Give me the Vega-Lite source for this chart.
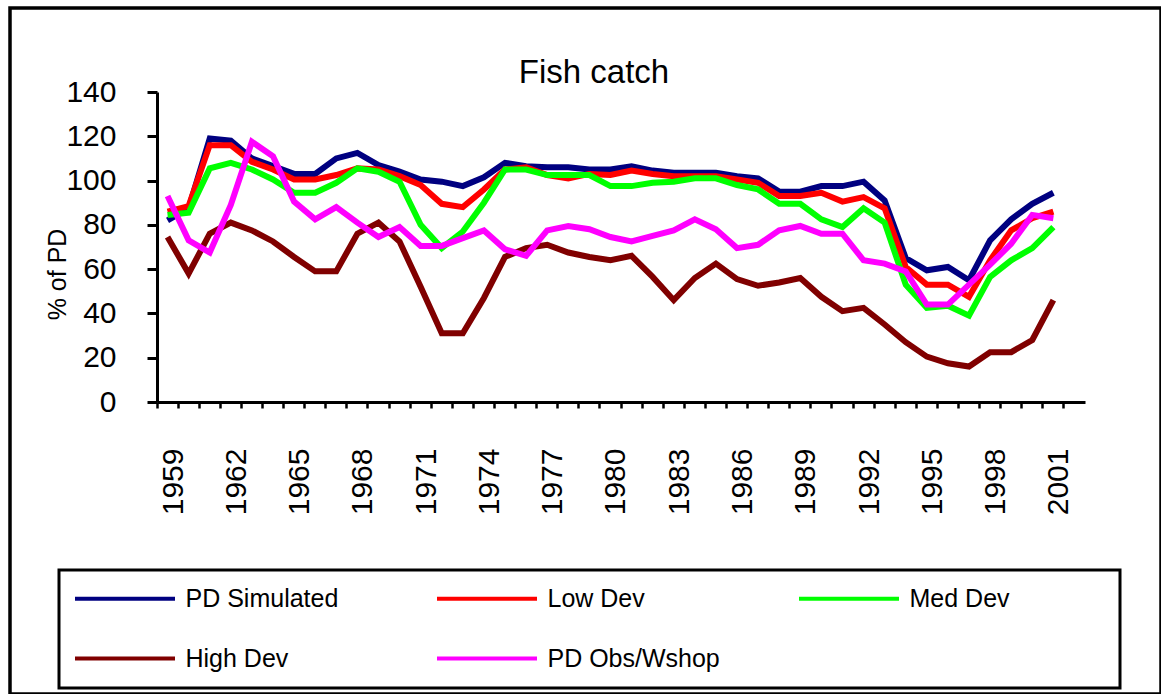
{
"$schema": "https://vega.github.io/schema/vega-lite/v6.json",
"autosize": {"type": "none"},
"padding": {"left": 10, "top": 8, "right": 0, "bottom": 0},
"width": 1151,
"height": 686,
"background": "white",
"config": {"font": "Liberation Sans", "view": {"stroke": "black", "strokeWidth": 3.5}},
"title": {"text": "Fish catch", "fontSize": 33, "font": "Liberation Sans", "fontWeight": "normal", "color": "black", "anchor": "middle", "frame": "group", "baseline": "alphabetic", "offset": -108, "dx": 8.5},
"data": {"values": [
{"year":1959,"series":"PD Simulated","pct":82},{"year":1960,"series":"PD Simulated","pct":87.5},{"year":1961,"series":"PD Simulated","pct":119},{"year":1962,"series":"PD Simulated","pct":118},{"year":1963,"series":"PD Simulated","pct":110},{"year":1964,"series":"PD Simulated","pct":106.5},{"year":1965,"series":"PD Simulated","pct":103},{"year":1966,"series":"PD Simulated","pct":103},{"year":1967,"series":"PD Simulated","pct":110},{"year":1968,"series":"PD Simulated","pct":112.5},{"year":1969,"series":"PD Simulated","pct":107},{"year":1970,"series":"PD Simulated","pct":104},{"year":1971,"series":"PD Simulated","pct":100.5},{"year":1972,"series":"PD Simulated","pct":99.5},{"year":1973,"series":"PD Simulated","pct":97.5},{"year":1974,"series":"PD Simulated","pct":101.5},{"year":1975,"series":"PD Simulated","pct":108},{"year":1976,"series":"PD Simulated","pct":106.5},{"year":1977,"series":"PD Simulated","pct":106},{"year":1978,"series":"PD Simulated","pct":106},{"year":1979,"series":"PD Simulated","pct":105},{"year":1980,"series":"PD Simulated","pct":105},{"year":1981,"series":"PD Simulated","pct":106.5},{"year":1982,"series":"PD Simulated","pct":104.5},{"year":1983,"series":"PD Simulated","pct":103.5},{"year":1984,"series":"PD Simulated","pct":103.5},{"year":1985,"series":"PD Simulated","pct":103.5},{"year":1986,"series":"PD Simulated","pct":102},{"year":1987,"series":"PD Simulated","pct":101},{"year":1988,"series":"PD Simulated","pct":95},{"year":1989,"series":"PD Simulated","pct":95},{"year":1990,"series":"PD Simulated","pct":97.5},{"year":1991,"series":"PD Simulated","pct":97.5},{"year":1992,"series":"PD Simulated","pct":99.5},{"year":1993,"series":"PD Simulated","pct":91},{"year":1994,"series":"PD Simulated","pct":65},{"year":1995,"series":"PD Simulated","pct":59.5},{"year":1996,"series":"PD Simulated","pct":61},{"year":1997,"series":"PD Simulated","pct":55},{"year":1998,"series":"PD Simulated","pct":73},{"year":1999,"series":"PD Simulated","pct":82.5},{"year":2000,"series":"PD Simulated","pct":89.5},{"year":2001,"series":"PD Simulated","pct":94.5},
{"year":1959,"series":"Low Dev","pct":86},{"year":1960,"series":"Low Dev","pct":88.5},{"year":1961,"series":"Low Dev","pct":116},{"year":1962,"series":"Low Dev","pct":116},{"year":1963,"series":"Low Dev","pct":108.5},{"year":1964,"series":"Low Dev","pct":105},{"year":1965,"series":"Low Dev","pct":100.5},{"year":1966,"series":"Low Dev","pct":100.5},{"year":1967,"series":"Low Dev","pct":102.5},{"year":1968,"series":"Low Dev","pct":105.5},{"year":1969,"series":"Low Dev","pct":105},{"year":1970,"series":"Low Dev","pct":102},{"year":1971,"series":"Low Dev","pct":98},{"year":1972,"series":"Low Dev","pct":89.5},{"year":1973,"series":"Low Dev","pct":88},{"year":1974,"series":"Low Dev","pct":96},{"year":1975,"series":"Low Dev","pct":105},{"year":1976,"series":"Low Dev","pct":106},{"year":1977,"series":"Low Dev","pct":102.5},{"year":1978,"series":"Low Dev","pct":101},{"year":1979,"series":"Low Dev","pct":103},{"year":1980,"series":"Low Dev","pct":102.5},{"year":1981,"series":"Low Dev","pct":104.5},{"year":1982,"series":"Low Dev","pct":103},{"year":1983,"series":"Low Dev","pct":102},{"year":1984,"series":"Low Dev","pct":102},{"year":1985,"series":"Low Dev","pct":102},{"year":1986,"series":"Low Dev","pct":100.5},{"year":1987,"series":"Low Dev","pct":99},{"year":1988,"series":"Low Dev","pct":93},{"year":1989,"series":"Low Dev","pct":93},{"year":1990,"series":"Low Dev","pct":94.5},{"year":1991,"series":"Low Dev","pct":90.5},{"year":1992,"series":"Low Dev","pct":92.5},{"year":1993,"series":"Low Dev","pct":87.5},{"year":1994,"series":"Low Dev","pct":61},{"year":1995,"series":"Low Dev","pct":53},{"year":1996,"series":"Low Dev","pct":53},{"year":1997,"series":"Low Dev","pct":47.5},{"year":1998,"series":"Low Dev","pct":64},{"year":1999,"series":"Low Dev","pct":77.5},{"year":2000,"series":"Low Dev","pct":83},{"year":2001,"series":"Low Dev","pct":86},
{"year":1959,"series":"Med Dev","pct":84.5},{"year":1960,"series":"Med Dev","pct":85.5},{"year":1961,"series":"Med Dev","pct":105.5},{"year":1962,"series":"Med Dev","pct":108},{"year":1963,"series":"Med Dev","pct":105},{"year":1964,"series":"Med Dev","pct":100.5},{"year":1965,"series":"Med Dev","pct":94.5},{"year":1966,"series":"Med Dev","pct":94.5},{"year":1967,"series":"Med Dev","pct":99},{"year":1968,"series":"Med Dev","pct":105.5},{"year":1969,"series":"Med Dev","pct":104},{"year":1970,"series":"Med Dev","pct":99.5},{"year":1971,"series":"Med Dev","pct":80},{"year":1972,"series":"Med Dev","pct":69.5},{"year":1973,"series":"Med Dev","pct":77},{"year":1974,"series":"Med Dev","pct":90},{"year":1975,"series":"Med Dev","pct":105},{"year":1976,"series":"Med Dev","pct":105},{"year":1977,"series":"Med Dev","pct":102.5},{"year":1978,"series":"Med Dev","pct":102.5},{"year":1979,"series":"Med Dev","pct":102.5},{"year":1980,"series":"Med Dev","pct":97.5},{"year":1981,"series":"Med Dev","pct":97.5},{"year":1982,"series":"Med Dev","pct":99},{"year":1983,"series":"Med Dev","pct":99.5},{"year":1984,"series":"Med Dev","pct":101},{"year":1985,"series":"Med Dev","pct":101},{"year":1986,"series":"Med Dev","pct":98},{"year":1987,"series":"Med Dev","pct":96},{"year":1988,"series":"Med Dev","pct":89.5},{"year":1989,"series":"Med Dev","pct":89.5},{"year":1990,"series":"Med Dev","pct":82.5},{"year":1991,"series":"Med Dev","pct":79},{"year":1992,"series":"Med Dev","pct":87.5},{"year":1993,"series":"Med Dev","pct":81},{"year":1994,"series":"Med Dev","pct":53},{"year":1995,"series":"Med Dev","pct":42.5},{"year":1996,"series":"Med Dev","pct":43.5},{"year":1997,"series":"Med Dev","pct":39},{"year":1998,"series":"Med Dev","pct":56.5},{"year":1999,"series":"Med Dev","pct":64},{"year":2000,"series":"Med Dev","pct":69.5},{"year":2001,"series":"Med Dev","pct":79},
{"year":1959,"series":"High Dev","pct":74.5},{"year":1960,"series":"High Dev","pct":58},{"year":1961,"series":"High Dev","pct":76},{"year":1962,"series":"High Dev","pct":81},{"year":1963,"series":"High Dev","pct":77.5},{"year":1964,"series":"High Dev","pct":72.5},{"year":1965,"series":"High Dev","pct":65.5},{"year":1966,"series":"High Dev","pct":59},{"year":1967,"series":"High Dev","pct":59},{"year":1968,"series":"High Dev","pct":76},{"year":1969,"series":"High Dev","pct":81},{"year":1970,"series":"High Dev","pct":72.5},{"year":1971,"series":"High Dev","pct":52},{"year":1972,"series":"High Dev","pct":31},{"year":1973,"series":"High Dev","pct":31},{"year":1974,"series":"High Dev","pct":47},{"year":1975,"series":"High Dev","pct":65.5},{"year":1976,"series":"High Dev","pct":69.5},{"year":1977,"series":"High Dev","pct":71},{"year":1978,"series":"High Dev","pct":67.5},{"year":1979,"series":"High Dev","pct":65.5},{"year":1980,"series":"High Dev","pct":64},{"year":1981,"series":"High Dev","pct":66},{"year":1982,"series":"High Dev","pct":56.5},{"year":1983,"series":"High Dev","pct":46},{"year":1984,"series":"High Dev","pct":56},{"year":1985,"series":"High Dev","pct":62.5},{"year":1986,"series":"High Dev","pct":55.5},{"year":1987,"series":"High Dev","pct":52.5},{"year":1988,"series":"High Dev","pct":54},{"year":1989,"series":"High Dev","pct":56},{"year":1990,"series":"High Dev","pct":47.5},{"year":1991,"series":"High Dev","pct":41},{"year":1992,"series":"High Dev","pct":42.5},{"year":1993,"series":"High Dev","pct":35},{"year":1994,"series":"High Dev","pct":27},{"year":1995,"series":"High Dev","pct":20.5},{"year":1996,"series":"High Dev","pct":17.5},{"year":1997,"series":"High Dev","pct":16},{"year":1998,"series":"High Dev","pct":22.5},{"year":1999,"series":"High Dev","pct":22.5},{"year":2000,"series":"High Dev","pct":28},{"year":2001,"series":"High Dev","pct":46},
{"year":1959,"series":"PD Obs/Wshop","pct":93},{"year":1960,"series":"PD Obs/Wshop","pct":73},{"year":1961,"series":"PD Obs/Wshop","pct":67.5},{"year":1962,"series":"PD Obs/Wshop","pct":89},{"year":1963,"series":"PD Obs/Wshop","pct":117.5},{"year":1964,"series":"PD Obs/Wshop","pct":111},{"year":1965,"series":"PD Obs/Wshop","pct":90.5},{"year":1966,"series":"PD Obs/Wshop","pct":82.5},{"year":1967,"series":"PD Obs/Wshop","pct":88},{"year":1968,"series":"PD Obs/Wshop","pct":81},{"year":1969,"series":"PD Obs/Wshop","pct":74.5},{"year":1970,"series":"PD Obs/Wshop","pct":79},{"year":1971,"series":"PD Obs/Wshop","pct":70.5},{"year":1972,"series":"PD Obs/Wshop","pct":70.5},{"year":1973,"series":"PD Obs/Wshop","pct":74},{"year":1974,"series":"PD Obs/Wshop","pct":77.5},{"year":1975,"series":"PD Obs/Wshop","pct":69},{"year":1976,"series":"PD Obs/Wshop","pct":66},{"year":1977,"series":"PD Obs/Wshop","pct":77.5},{"year":1978,"series":"PD Obs/Wshop","pct":79.5},{"year":1979,"series":"PD Obs/Wshop","pct":78},{"year":1980,"series":"PD Obs/Wshop","pct":74.5},{"year":1981,"series":"PD Obs/Wshop","pct":72.5},{"year":1982,"series":"PD Obs/Wshop","pct":75},{"year":1983,"series":"PD Obs/Wshop","pct":77.5},{"year":1984,"series":"PD Obs/Wshop","pct":82.5},{"year":1985,"series":"PD Obs/Wshop","pct":78},{"year":1986,"series":"PD Obs/Wshop","pct":69.5},{"year":1987,"series":"PD Obs/Wshop","pct":71},{"year":1988,"series":"PD Obs/Wshop","pct":77.5},{"year":1989,"series":"PD Obs/Wshop","pct":79.5},{"year":1990,"series":"PD Obs/Wshop","pct":76},{"year":1991,"series":"PD Obs/Wshop","pct":76},{"year":1992,"series":"PD Obs/Wshop","pct":64},{"year":1993,"series":"PD Obs/Wshop","pct":62.5},{"year":1994,"series":"PD Obs/Wshop","pct":59},{"year":1995,"series":"PD Obs/Wshop","pct":44},{"year":1996,"series":"PD Obs/Wshop","pct":44},{"year":1997,"series":"PD Obs/Wshop","pct":53},{"year":1998,"series":"PD Obs/Wshop","pct":62},{"year":1999,"series":"PD Obs/Wshop","pct":71.5},{"year":2000,"series":"PD Obs/Wshop","pct":84.5},{"year":2001,"series":"PD Obs/Wshop","pct":83}
]},
"mark": {"type": "line", "strokeWidth": 6, "clip": false},
"encoding": {
"x": {"field": "year", "type": "ordinal",
 "scale": {"type": "band", "domain": [1959,1960,1961,1962,1963,1964,1965,1966,1967,1968,1969,1970,1971,1972,1973,1974,1975,1976,1977,1978,1979,1980,1981,1982,1983,1984,1985,1986,1987,1988,1989,1990,1991,1992,1993,1994,1995,1996,1997,1998,1999,2000,2001,2002], "range": [147, 1075], "paddingInner": 0, "paddingOuter": 0},
 "axis": {"title": null, "offset": -292, "bandPosition": 0, "labelOffset": 6, "labelExpr": "(datum.value - 1959) % 3 == 0 ? datum.label : ''", "labelAngle": 270, "labelAlign": "right", "labelBaseline": "middle", "labelPadding": 40, "labelFontSize": 30, "labelFont": "Liberation Sans", "labelColor": "black", "labelOverlap": false, "tickSize": 6, "tickWidth": 2.5, "tickColor": "black", "domainColor": "black", "domainWidth": 3, "grid": false}},
"y": {"field": "pct", "type": "quantitative",
 "scale": {"domain": [0, 140], "range": [394, 84], "nice": false, "zero": false},
 "axis": {"title": "% of PD", "offset": -147, "values": [0,20,40,60,80,100,120,140], "labelFontSize": 30, "labelFont": "Liberation Sans", "labelColor": "black", "labelPadding": 31, "tickSize": 10, "tickWidth": 3, "tickColor": "black", "domainColor": "black", "domainWidth": 3, "grid": false, "titleFontSize": 25, "titleFont": "Liberation Sans", "titleFontWeight": "normal", "titleColor": "black", "titleX": -100, "titleY": 266, "titleAngle": 270, "titleAlign": "center", "titleBaseline": "middle"}},
"color": {"field": "series", "type": "nominal",
 "scale": {"domain": ["PD Simulated", "Low Dev", "Med Dev", "High Dev", "PD Obs/Wshop"], "range": ["#000080", "#FF0000", "#00FF00", "#800000", "#FF00FF"]},
 "legend": {"orient": "none", "legendX": 49, "legendY": 562, "direction": "horizontal", "columns": 3, "gridAlign": "all", "columnPadding": 71, "rowPadding": 34, "padding": 16, "strokeColor": "black", "fillColor": "white", "symbolType": "M-5,0H5", "symbolSize": 400, "symbolStrokeWidth": 4, "symbolOffset": 37.5, "labelOffset": 48, "labelFontSize": 25, "labelFont": "Liberation Sans", "labelColor": "black", "labelLimit": 400,
  "title": " ", "titleOrient": "right", "titlePadding": 94, "titleFontSize": 1,
  "encode": {"legend": {"update": {"strokeWidth": {"value": 3}}}}}}
}
}
